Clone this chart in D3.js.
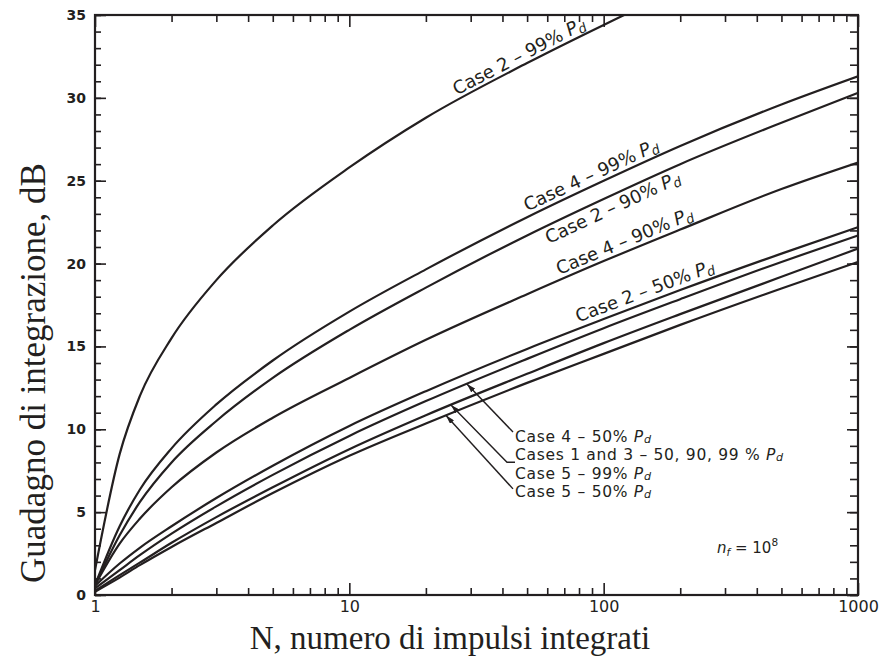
<!DOCTYPE html>
<html><head><meta charset="utf-8">
<script src="https://cdn.jsdelivr.net/npm/d3@7"></script>
<style>body{margin:0;background:#fff}svg{display:block}</style>
</head><body><svg id="c" width="890" height="658"></svg>
<script>
// ---- data ----
const pulses   = [1, 1.25, 1.5, 2, 3, 5, 10, 20, 50, 100, 200, 500, 1000];
const case2_99 = [1.5, 8.5, 12.0, 15.5, 19.0, 22.3, 25.8, 28.8, 32.1, 34.4, 36.6, 39.3, 41.3];
const case4_99 = [0.6, 4.15, 6.35, 8.85, 11.5, 14.15, 17.1, 19.65, 22.8, 25.0, 27.1, 29.6, 31.3];
const case2_90 = [0.6, 3.6, 5.6, 8.0, 10.5, 13.1, 16.0, 18.55, 21.7, 23.9, 26.0, 28.5, 30.3];
const case4_90 = [0.6, 3.1, 4.6, 6.5, 8.6, 10.7, 13.1, 15.4, 18.15, 20.15, 22.05, 24.5, 26.1];
const case2_50 = [0.55, 1.9, 2.85, 4.15, 5.85, 7.8, 10.2, 12.3, 14.85, 16.65, 18.4, 20.6, 22.2];
const case4_50 = [0.4, 1.5, 2.4, 3.7, 5.35, 7.25, 9.6, 11.7, 14.25, 16.1, 17.85, 20.1, 21.7];
const case1_3  = [0.25, 1.2, 1.95, 3.15, 4.7, 6.5, 8.8, 10.85, 13.35, 15.2, 16.95, 19.2, 20.9];
const case5_50 = [0.2, 1.05, 1.8, 2.9, 4.35, 6.15, 8.4, 10.35, 12.8, 14.55, 16.3, 18.5, 20.1];
const seriesList = [case2_99, case4_99, case2_90, case4_90, case2_50, case4_50, case1_3, case5_50];

const yMajorTicks = [0, 5, 10, 15, 20, 25, 30, 35];
const yMinorTicks = d3.range(0, 36);
const xMajorTicks = [1, 10, 100, 1000];
const xMinorTicks = [2,3,4,5,6,7,8,9,20,30,40,50,60,70,80,90,200,300,400,500,600,700,800,900];

const curveLabels = [
  {s: case2_99, n: 27,   text: "Case 2 – 99% ", dy: -5},
  {s: case4_99, n: 51,   text: "Case 4 – 99% ", dy: -5},
  {s: case2_90, n: 57,   text: "Case 2 – 90% ", dy: 17},
  {s: case4_90, n: 68,   text: "Case 4 – 90% ", dy: -5},
  {s: case2_50, n: 81,   text: "Case 2 – 50% ", dy: -6}
];
const legendLines = [
  "Case 4 – 50% ",
  "Cases 1 and 3 – 50, 90, 99 % ",
  "Case 5 – 99% ",
  "Case 5 – 50% "
];

// ---- layout ----
const m = {l: 95, r: 858, t: 15, b: 595};
const ink = "#231f20";
const x = d3.scaleLog().domain([1, 1000]).range([m.l, m.r]);
const y = d3.scaleLinear().domain([0, 35]).range([m.b, m.t]);
const svg = d3.select("#c");
const defs = svg.append("defs");
defs.append("clipPath").attr("id", "clip").append("rect")
  .attr("x", m.l).attr("y", m.t).attr("width", m.r - m.l).attr("height", m.b - m.t);
defs.append("marker").attr("id", "arr").attr("viewBox", "0 0 10 6")
  .attr("refX", 10).attr("refY", 3).attr("markerWidth", 9).attr("markerHeight", 5.4)
  .attr("markerUnits", "userSpaceOnUse").attr("orient", "auto")
  .append("path").attr("d", "M0,0 L10,3 L0,6 z").attr("fill", ink);

function interp(s, n) {
  const ln = Math.log10(n);
  for (let i = 0; i < pulses.length - 1; i++) {
    const a = Math.log10(pulses[i]), b = Math.log10(pulses[i + 1]);
    if (ln >= a && ln <= b) return s[i] + (s[i + 1] - s[i]) * (ln - a) / (b - a);
  }
  return s[s.length - 1];
}

// ---- axes (ticks pointing inward) ----
const tickFont = "DejaVu Sans, sans-serif";
function styleAxis(g) { g.select(".domain").remove(); g.selectAll("line").attr("stroke", ink).attr("stroke-width", 1.6); }

svg.append("g").attr("transform", `translate(${m.l},0)`)
  .call(d3.axisLeft(y).tickValues(yMinorTicks).tickSize(-6).tickFormat("")).call(styleAxis);
svg.append("g").attr("transform", `translate(${m.l},0)`)
  .call(d3.axisLeft(y).tickValues(yMajorTicks).tickSize(-11).tickPadding(9).tickFormat(d3.format("d")))
  .call(styleAxis)
  .selectAll("text").attr("font-family", tickFont).attr("font-weight", "bold").attr("font-size", 14).attr("fill", ink);
svg.append("g").attr("transform", `translate(${m.r},0)`)
  .call(d3.axisRight(y).tickValues(yMinorTicks).tickSize(-8).tickFormat("")).call(styleAxis);
svg.append("g").attr("transform", `translate(${m.r},0)`)
  .call(d3.axisRight(y).tickValues(yMajorTicks).tickSize(-11).tickFormat("")).call(styleAxis);

svg.append("g").attr("transform", `translate(0,${m.b})`)
  .call(d3.axisBottom(x).tickValues(xMinorTicks).tickSize(-7).tickFormat("")).call(styleAxis);
svg.append("g").attr("transform", `translate(0,${m.b})`)
  .call(d3.axisBottom(x).tickValues(xMajorTicks).tickSize(-12).tickPadding(6).tickFormat(d3.format("d")))
  .call(styleAxis)
  .selectAll("text").attr("font-family", tickFont).attr("font-size", 16).attr("fill", ink);
svg.append("g").attr("transform", `translate(0,${m.t})`)
  .call(d3.axisTop(x).tickValues(xMinorTicks).tickSize(-7).tickFormat("")).call(styleAxis);
svg.append("g").attr("transform", `translate(0,${m.t})`)
  .call(d3.axisTop(x).tickValues(xMajorTicks).tickSize(-12).tickFormat("")).call(styleAxis);

// frame
svg.append("rect").attr("x", m.l).attr("y", m.t).attr("width", m.r - m.l).attr("height", m.b - m.t)
  .attr("fill", "none").attr("stroke", ink).attr("stroke-width", 2.2);

// ---- curves ----
const line = d3.line().x((d, i) => x(pulses[i])).y(d => y(d)).curve(d3.curveMonotoneX);
svg.append("g").attr("clip-path", "url(#clip)").selectAll("path").data(seriesList).join("path")
  .attr("d", line).attr("fill", "none").attr("stroke", ink).attr("stroke-width", 2.2);

// ---- labels along curves ----
const lblFont = "DejaVu Sans, sans-serif";
function addPd(t, sub) {
  t.append("tspan").attr("font-style", "italic").text("P");
  t.append("tspan").attr("font-style", "italic").attr("font-size", "0.72em").attr("dy", sub).text("d");
}
curveLabels.forEach(L => {
  const n1 = L.n * Math.pow(10, 130 / 255);
  const x0 = x(L.n), y0 = y(interp(L.s, L.n));
  const x1 = x(n1), y1 = y(interp(L.s, n1));
  const ang = Math.atan2(y1 - y0, x1 - x0) * 180 / Math.PI;
  const t = svg.append("text").attr("transform", `translate(${x0},${y0}) rotate(${ang})`)
    .attr("y", L.dy).attr("font-family", lblFont).attr("font-size", 18).attr("fill", ink);
  t.append("tspan").text(L.text);
  addPd(t, 3);
});

// ---- legend with leaders ----
const legX = 515, legY0 = 442, legStep = 18.3;
legendLines.forEach((s, i) => {
  const t = svg.append("text").attr("x", legX).attr("y", legY0 + i * legStep)
    .attr("font-family", lblFont).attr("font-size", 15.5).attr("letter-spacing", 0.7).attr("fill", ink);
  t.append("tspan").text(s);
  addPd(t, 1);
});
const tipF = [x(29), y(interp(case4_50, 29))];
const tipG = [x(25.1), y(interp(case1_3, 25.1))];
const tipH = [x(24), y(interp(case5_50, 24))];
const leaders = [
  [[legX - 2, legY0 - 10], tipF],
  [[legX, legY0 + legStep + 2], [legX - 8, legY0 + legStep + 2], tipG],
  [[legX - 2, legY0 + 3 * legStep - 8], tipH]
];
svg.append("g").selectAll("path").data(leaders).join("path")
  .attr("d", d3.line()).attr("fill", "none").attr("stroke", ink).attr("stroke-width", 1.4)
  .attr("marker-end", "url(#arr)");

// n_f = 10^8
const nf = svg.append("text").attr("x", 717).attr("y", 553).attr("font-family", lblFont)
  .attr("font-size", 15).attr("fill", ink);
nf.append("tspan").attr("font-style", "italic").text("n");
nf.append("tspan").attr("font-style", "italic").attr("font-size", "0.7em").attr("dy", 3).text("f");
nf.append("tspan").attr("dy", -3).text(" = 10");
nf.append("tspan").attr("font-size", "0.7em").attr("dy", -7).text("8");

// ---- axis titles ----
svg.append("text").attr("x", 450).attr("y", 649).attr("text-anchor", "middle")
  .attr("font-family", "Liberation Serif, Times New Roman, serif").attr("font-size", 33).attr("fill", ink)
  .text("N, numero di impulsi integrati");
svg.append("text").attr("transform", "translate(45,373) rotate(-90)").attr("text-anchor", "middle")
  .attr("font-family", "Liberation Serif, Times New Roman, serif").attr("font-size", 35).attr("fill", ink)
  .text("Guadagno di integrazione, dB");
</script></body></html>
